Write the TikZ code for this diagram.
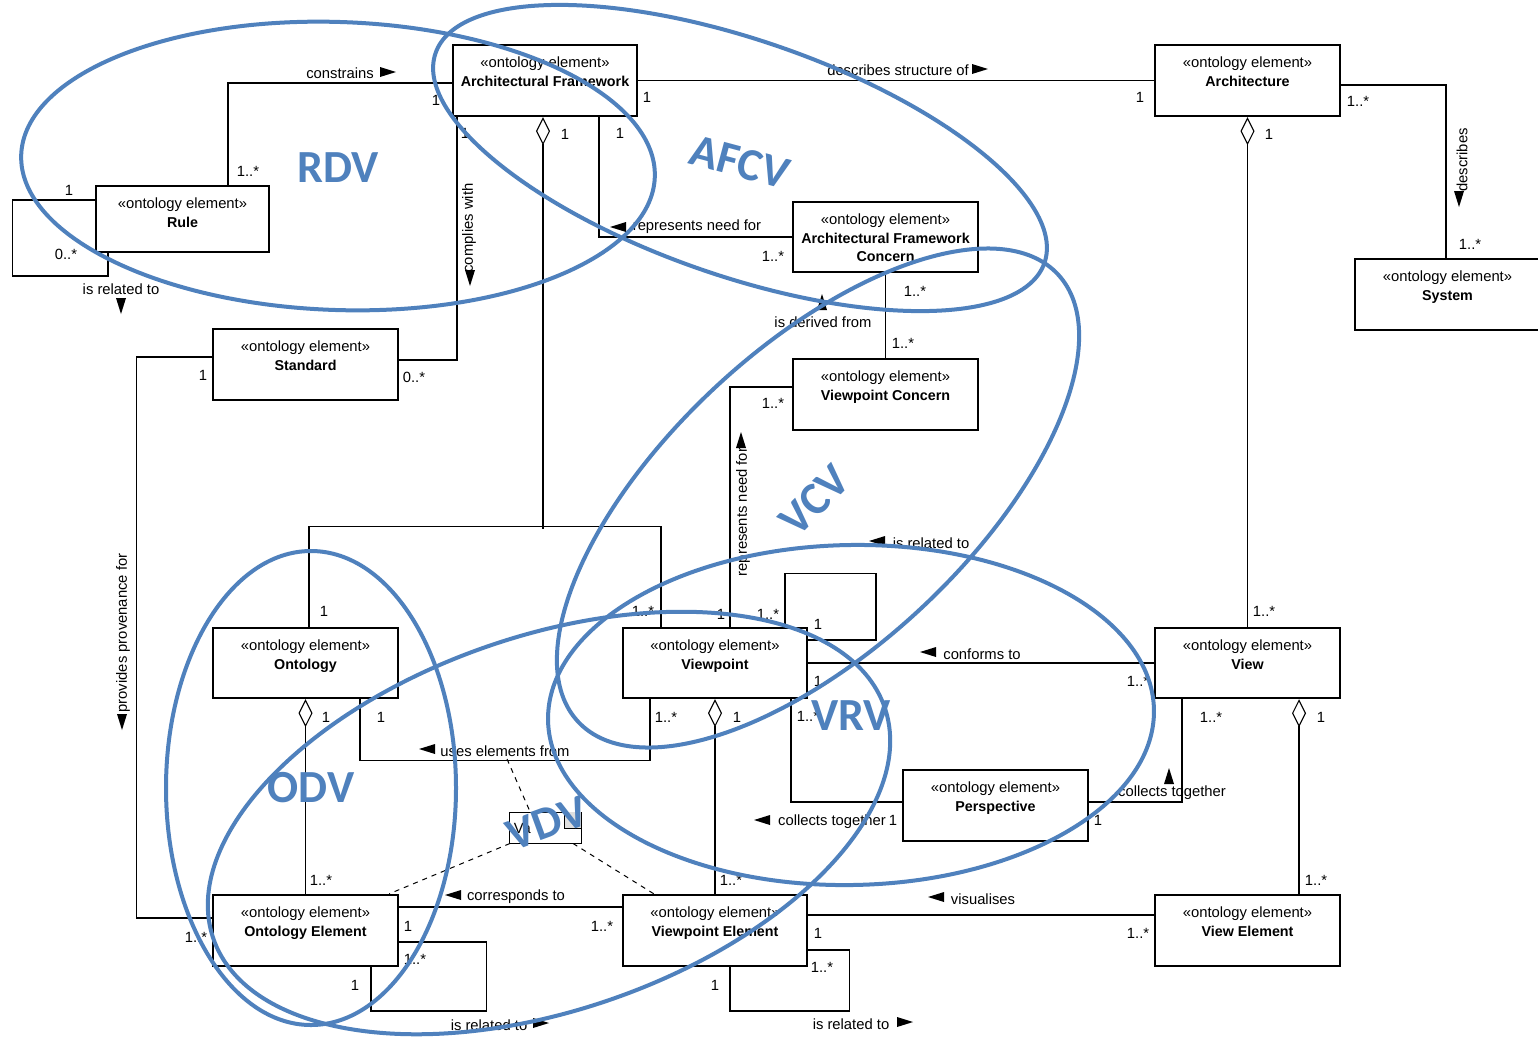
\documentclass[tikz,border=0pt]{standalone}
\usepackage{fontspec}
\setmainfont{Liberation Sans}
\newfontfamily\viewfont{Carlito}
\usetikzlibrary{arrows.meta}
\definecolor{viewblue}{HTML}{4F81BD}

% an ontology element box: name, centre x, centre y, width, height, title
\newcommand\elem[6]{%
  \node[elembox, minimum width=#4pt, minimum height=#5pt] (#1) at (#2,#3) {};
  \node[stereo] (#1-s) at ([yshift=-24pt]#1.north) {«ontology element»};
  \node[ename] (#1-n) at ([yshift=-42.5pt]#1.north) {#6};
}

\begin{document}
\begin{tikzpicture}[x=1pt,y=-1pt,
  elembox/.style={draw, line width=2.4pt, inner sep=0pt, fill=white},
  stereo/.style={font=\fontsize{14.8}{18}\selectfont, inner sep=0pt, anchor=base},
  ename/.style={font=\fontsize{14.3}{18}\selectfont\bfseries, inner sep=0pt, anchor=base},
  conn/.style={line width=1.1pt},
  agg/.style={conn, {Diamond[open, length=28pt, width=14pt, line width=1.1pt]}-},
  lbl/.style={font=\fontsize{14.8}{18}\selectfont, inner sep=0pt},
  mult/.style={lbl},
  ell/.style={draw=viewblue, line width=4pt},
  vlabel/.style={font=\fontsize{46}{50}\viewfont\bfseries, text=viewblue, inner sep=0pt},
  triR/.pic={\fill (-8,-5) -- (8,0) -- (-8,5) -- cycle;},
  triL/.pic={\fill (8,-5) -- (-8,0) -- (8,5) -- cycle;},
  triD/.pic={\fill (-5,-8) -- (5,-8) -- (0,8) -- cycle;},
  triU/.pic={\fill (-5,8) -- (5,8) -- (0,-8) -- cycle;},
]
\clip (0,0) rectangle (1538,1037);
\fill[white] (0,0) rectangle (1538,1037);

% ---------- element outlines (anchors for the connectors) ----------
\node[elembox, draw=none, fill=none, minimum width=173pt, minimum height=66pt] (rule) at (182.5,219) {};
\node[elembox, draw=none, fill=none, minimum width=184pt, minimum height=71pt] (af) at (545,80.5) {};
\node[elembox, draw=none, fill=none, minimum width=185pt, minimum height=71pt] (arch) at (1247.5,80.5) {};
\node[elembox, draw=none, fill=none, minimum width=185pt, minimum height=70pt] (afc) at (885.5,237) {};
\node[elembox, draw=none, fill=none, minimum width=185pt, minimum height=71pt] (sys) at (1447.5,294.5) {};
\node[elembox, draw=none, fill=none, minimum width=185pt, minimum height=71pt] (std) at (305.5,364.5) {};
\node[elembox, draw=none, fill=none, minimum width=185pt, minimum height=71pt] (vc) at (885.5,394.5) {};
\node[elembox, draw=none, fill=none, minimum width=185pt, minimum height=70pt] (ont) at (305.5,663) {};
\node[elembox, draw=none, fill=none, minimum width=184pt, minimum height=70pt] (vp) at (715,663) {};
\node[elembox, draw=none, fill=none, minimum width=185pt, minimum height=70pt] (view) at (1247.5,663) {};
\node[elembox, draw=none, fill=none, minimum width=185pt, minimum height=71pt] (persp) at (995.5,805.5) {};
\node[elembox, draw=none, fill=none, minimum width=185pt, minimum height=71pt] (oe) at (305.5,930.5) {};
\node[elembox, draw=none, fill=none, minimum width=184pt, minimum height=71pt] (vpe) at (715,930.5) {};
\node[elembox, draw=none, fill=none, minimum width=185pt, minimum height=71pt] (ve) at (1247.5,930.5) {};

% ---------- connectors ----------
% constrains
\draw[conn] ([yshift=-2.5pt]af.west) -| ([xshift=45.5pt]rule.north);
% rule is related to rule
\draw[conn] ([yshift=19pt]rule.west) -- ++(-82,0) -- ++(0,76) -| ([xshift=-74.5pt]rule.south);
% complies with
\draw[conn] ([xshift=-88pt]af.south) |- ([yshift=4.5pt]std.east);
% framework aggregates ontology and viewpoint
\draw[agg] ([xshift=-2pt]af.south) -- ++(0,412) coordinate (aggjoin);
\draw[conn] ([xshift=3.5pt]ont.north) -- ++(0,-100) -| ([xshift=-54pt]vp.north);
% represents need for (framework concern)
\draw[conn] ([xshift=54pt]af.south) |- (afc.west);
% describes structure of
\draw[conn] (af.east) -- (arch.west);
% describes
\draw[conn] ([yshift=-4.5pt]arch.east) -| ([xshift=-1.5pt]sys.north);
% architecture aggregates view
\draw[agg] (arch.south) -- (view.north);
% is derived from
\draw[conn] (afc.south) -- (vc.north);
% represents need for (viewpoint concern)
\draw[conn] ([yshift=7.5pt]vc.west) -| ([xshift=15pt]vp.north);
% viewpoint is related to viewpoint
\draw[conn] ([xshift=70pt]vp.north) -- ++(0,-53) -- ++(91,0) |- ([yshift=23pt]vp.east);
% conforms to
\draw[conn] (vp.east) -- (view.west);
% collects together
\draw[conn] ([xshift=76pt]vp.south) |- ([yshift=3.5pt]persp.west);
\draw[conn] ([xshift=-65.5pt]view.south) |- ([yshift=3.5pt]persp.east);
% view aggregates view element
\draw[agg] ([xshift=51.5pt]view.south) -- ([xshift=51.5pt]ve.north);
% ontology aggregates ontology element
\draw[agg] (ont.south) -- (oe.north);
% uses elements from
\draw[conn] ([xshift=54.5pt]ont.south) -- ++(0,61) coordinate (usesL) -| ([xshift=-65pt]vp.south);
% viewpoint aggregates viewpoint element
\draw[agg] (vp.south) -- (vpe.north);
% corresponds to
\draw[conn] ([yshift=23.5pt]oe.east) -- ([yshift=23.5pt]vpe.west);
% visualises
\draw[conn] ([yshift=15.5pt]vpe.east) -- ([yshift=15.5pt]ve.west);
% provides provenance for
\draw[conn] ([yshift=7.5pt]std.west) -- ++(-75,0) |- ([yshift=12.5pt]oe.west);
% element self relations
\draw[conn] ([yshift=-11.5pt]oe.east) -- ++(87,0) -- ++(0,69) -| ([xshift=65.5pt]oe.south);
\draw[conn] ([yshift=-19.5pt]vpe.east) -- ++(41,0) -- ++(0,61) -| ([xshift=15pt]vpe.south);

% ---------- view definition note ----------
\node[draw, line width=0.9pt, minimum width=72pt, minimum height=31pt, inner sep=0pt, fill=white] (va) at (545,827.5) {};
\fill[gray!25] ([xshift=-17pt]va.north east) rectangle ([yshift=-17pt]va.north east);
\draw[line width=0.9pt] ([xshift=-17pt]va.north east) |- ([yshift=-17pt]va.north east);
\node[lbl, anchor=west] (va-t) at ([xshift=5pt,yshift=-1pt]va.west) {Va};
\coordinate (usesD) at (507,759);
\draw[dashed, line width=1pt, dash pattern=on 5pt off 5pt] (usesD) -- ([xshift=-15pt]va.north);
\draw[dashed, line width=1pt, dash pattern=on 5pt off 5pt] ([xshift=-35pt]va.south) -- ([xshift=-10pt]oe.north east);
\draw[dashed, line width=1pt, dash pattern=on 5pt off 5pt] ([xshift=28pt]va.south) -- ([xshift=32pt]vpe.north west);

% ---------- element boxes ----------
\elem{rule}{182.5}{219}{173}{66}{Rule}
\elem{af}{545}{80.5}{184}{71}{Architectural Framework}
\elem{arch}{1247.5}{80.5}{185}{71}{Architecture}
\elem{afc}{885.5}{237}{185}{70}{Architectural Framework}
\node[ename] (afc-n2) at ([yshift=-60.5pt]afc.north) {Concern};
\elem{sys}{1447.5}{294.5}{185}{71}{System}
\elem{std}{305.5}{364.5}{185}{71}{Standard}
\elem{vc}{885.5}{394.5}{185}{71}{Viewpoint Concern}
\elem{ont}{305.5}{663}{185}{70}{Ontology}
\elem{vp}{715}{663}{184}{70}{Viewpoint}
\elem{view}{1247.5}{663}{185}{70}{View}
\elem{persp}{995.5}{805.5}{185}{71}{Perspective}
\elem{oe}{305.5}{930.5}{185}{71}{Ontology Element}
\elem{vpe}{715}{930.5}{184}{71}{Viewpoint Element}
\elem{ve}{1247.5}{930.5}{185}{71}{View Element}

% ---------- association labels ----------
\node[lbl] (l-constrains) at (340,73) {constrains};
\pic at (388,72) {triR};
\node[lbl] (l-rulerel) at (121,289) {is related to};
\pic at (121,306) {triD};
\node[lbl, rotate=90] (l-complies) at (469,228) {complies with};
\pic at (470,278) {triD};
\node[lbl] (l-afneed) at (697,227) {represents need for};
\pic at (618,227) {triL};
\node[lbl] (l-descstr) at (898,70) {describes structure of};
\pic at (980,69) {triR};
\node[lbl, rotate=90] (l-describes) at (1462,160) {describes};
\pic at (1459,199) {triD};
\node[lbl] (l-derived) at (823,322) {is derived from};
\pic at (822,302) {triU};
\node[lbl, rotate=90] (l-vpneed) at (743,512) {represents need for};
\pic at (741,440) {triU};
\node[lbl] (l-vprel) at (931,543) {is related to};
\pic at (877,541) {triL};
\node[lbl] (l-conforms) at (982,654) {conforms to};
\pic at (928,652) {triL};
\node[lbl] (l-uses) at (505,751) {uses elements from};
\pic at (427,749) {triL};
\node[lbl] (l-collect1) at (832,822) {collects together};
\pic at (762,820) {triL};
\node[lbl] (l-collect2) at (1172,793) {collects together};
\pic at (1169,776) {triU};
\node[lbl] (l-corr) at (516,897) {corresponds to};
\pic at (453,895) {triL};
\node[lbl] (l-vis) at (983,899) {visualises};
\pic at (936,897) {triL};
\node[lbl] (l-oerel) at (489,1025) {is related to};
\pic at (541,1023) {triR};
\node[lbl] (l-vperel) at (851,1024) {is related to};
\pic at (905,1022) {triR};
\node[lbl, rotate=90] (l-prov) at (123,633) {provides provenance for};
\pic at (122,722) {triD};

% ---------- multiplicities ----------
\node[mult] (m01) at (436,100) {1};
\node[mult] (m02) at (248,171) {1..*};
\node[mult] (m03) at (69,190) {1};
\node[mult] (m04) at (66,254) {0..*};
\node[mult] (m05) at (465,133) {1};
\node[mult] (m06) at (565,134) {1};
\node[mult] (m07) at (620,133) {1};
\node[mult] (m08) at (647,97) {1};
\node[mult] (m09) at (1140,97) {1};
\node[mult] (m10) at (1358,101) {1..*};
\node[mult] (m11) at (1269,134) {1};
\node[mult] (m12) at (1470,244) {1..*};
\node[mult] (m13) at (773,256) {1..*};
\node[mult] (m14) at (915,291) {1..*};
\node[mult] (m15) at (903,343) {1..*};
\node[mult] (m16) at (414,377) {0..*};
\node[mult] (m17) at (203,375) {1};
\node[mult] (m18) at (773,403) {1..*};
\node[mult] (m19) at (324,611) {1};
\node[mult] (m20) at (643,611) {1..*};
\node[mult] (m21) at (721,614) {1};
\node[mult] (m22) at (768,614) {1..*};
\node[mult] (m23) at (818,624) {1};
\node[mult] (m24) at (1264,611) {1..*};
\node[mult] (m25) at (818,681) {1};
\node[mult] (m26) at (1138,681) {1..*};
\node[mult] (m27) at (326,717) {1};
\node[mult] (m28) at (381,717) {1};
\node[mult] (m29) at (666,717) {1..*};
\node[mult] (m30) at (737,717) {1};
\node[mult] (m31) at (808,716) {1..*};
\node[mult] (m32) at (1211,717) {1..*};
\node[mult] (m33) at (1321,717) {1};
\node[mult] (m34) at (893,820) {1};
\node[mult] (m35) at (1098,820) {1};
\node[mult] (m36) at (321,880) {1..*};
\node[mult] (m37) at (731,880) {1..*};
\node[mult] (m38) at (1316,880) {1..*};
\node[mult] (m39) at (408,926) {1};
\node[mult] (m40) at (602,926) {1..*};
\node[mult] (m41) at (818,933) {1};
\node[mult] (m42) at (1138,933) {1..*};
\node[mult] (m43) at (196,937) {1..*};
\node[mult] (m44) at (415,959) {1..*};
\node[mult] (m45) at (355,985) {1};
\node[mult] (m46) at (822,967) {1..*};
\node[mult] (m47) at (715,985) {1};

% ---------- viewpoint groupings ----------
\draw[ell, rotate around={-2:(338,166)}] (338,166) ellipse [x radius=317, y radius=144];
\draw[ell, rotate around={-19:(740,158)}] (740,158) ellipse [x radius=322, y radius=118];
\draw[ell, rotate around={43:(818,498)}] (818,498) ellipse [x radius=328, y radius=151];
\draw[ell, rotate around={1:(851,715)}] (851,715) ellipse [x radius=303, y radius=170];
\draw[ell] (311,788) ellipse [x radius=145, y radius=237];
\draw[ell, rotate around={19:(549,823)}] (549,823) ellipse [x radius=355, y radius=187];

\node[vlabel] (v-rdv) at (338,168) {RDV};
\node[vlabel, rotate=-15] (v-afcv) at (740,162) {AFCV};
\node[vlabel, rotate=45] (v-vcv) at (815,500) {VCV};
\node[vlabel] (v-vrv) at (851,716) {VRV};
\node[vlabel] (v-odv) at (311,788) {ODV};
\node[vlabel, rotate=20] (v-vdv) at (547,823) {VDV};
\end{tikzpicture}
\end{document}
